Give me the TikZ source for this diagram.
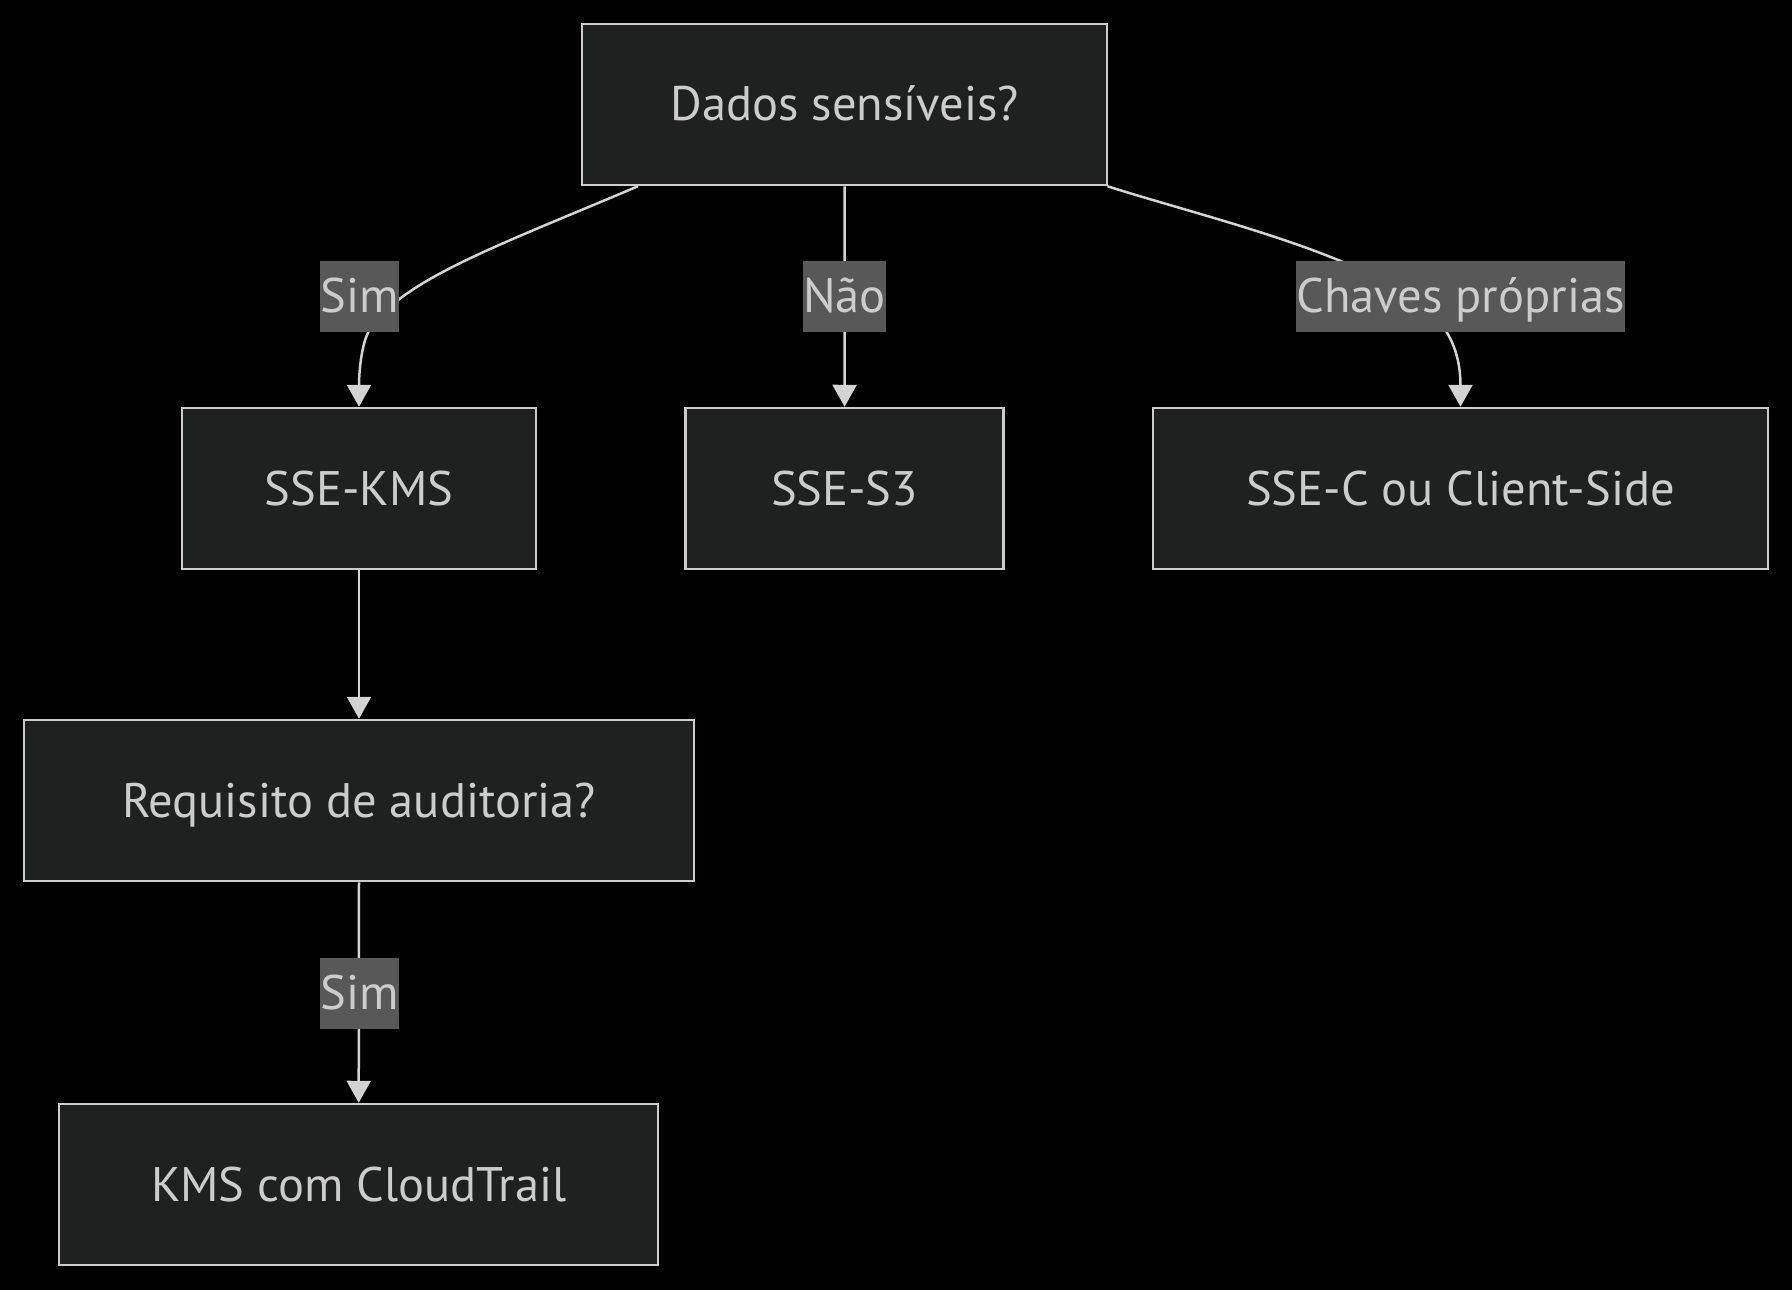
\documentclass[tikz,border=0pt]{standalone}
\usepackage{fontspec}
\setmainfont{PT Sans}
\usetikzlibrary{arrows.meta}
\definecolor{bgc}{HTML}{000000}
\definecolor{boxfill}{HTML}{1F2020}
\definecolor{boxline}{HTML}{CCCCCC}
\definecolor{txt}{HTML}{CCCCCC}
\definecolor{edgec}{HTML}{D3D3D3}
\definecolor{lblbg}{HTML}{585858}
\tikzset{
  box/.style={draw=boxline, fill=boxfill, line width=2.5pt, minimum height=161pt, inner sep=0pt, text=txt, text height=38pt, text depth=5pt, font=\fontsize{48.5}{54}\selectfont},
  lbl/.style={fill=lblbg, text=txt, minimum height=71pt, inner xsep=0pt, inner ysep=0pt, text height=38pt, text depth=5pt, font=\fontsize{48.5}{54}\selectfont},
  edge/.style={draw=edgec, line width=2.5pt, -{Triangle[width=24pt,length=22pt]}}
}
\begin{document}
\begin{tikzpicture}[x=1pt,y=-1pt]
\fill[bgc] (0,0) rectangle (1792,1290);
\useasboundingbox (0,0) rectangle (1792,1290);
\node[box, minimum width=525pt] (top) at (844.7,104.5) {Dados sensíveis?};
\node[box, minimum width=354pt] (kms) at (359,488.5) {SSE-KMS};
\node[box, minimum width=318pt] (s3) at (844.6,488.5) {SSE-S3};
\node[box, minimum width=615pt] (ssec) at (1460.5,488.5) {SSE-C ou Client-Side};
\node[box, minimum width=670pt] (req) at (359,800.5) {Requisito de auditoria?};
\node[box, minimum width=599pt] (trail) at (358.7,1184.5) {KMS com CloudTrail};
% edges
\draw[edge] ([xshift=57pt]top.south west) .. controls (500,245) and (400,280) .. (369,331) .. controls (362,342.5) and (359,370) .. (kms.north);
\draw[edge] (top.south) -- (s3.north);
\draw[edge] ([xshift=-1pt]top.south east) .. controls (1220,222) and (1400,262) .. (1446,331) .. controls (1453,342) and (1460.5,360) .. (ssec.north);
\draw[edge] (kms.south) -- (req.north);
\draw[edge] (req.south) -- (trail.north);
% labels
\node[lbl] (l1) at (359.5,296) {Sim};
\node[lbl] (l2) at (844.6,296) {Não};
\node[lbl] (l3) at (1460.5,296) {Chaves próprias};
\node[lbl] (l4) at (359.5,993) {Sim};
\end{tikzpicture}
\end{document}
